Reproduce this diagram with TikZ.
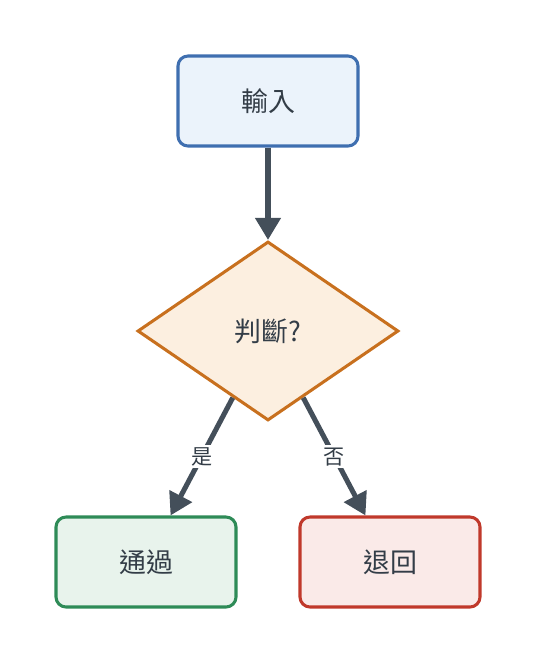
\documentclass[tikz,border=0pt]{standalone}
\usepackage{fontspec}
\setmainfont{Noto Sans CJK TC}
\usetikzlibrary{shapes.geometric,arrows.meta}

\definecolor{inkgray}{HTML}{333D47}
\definecolor{arrowgray}{HTML}{444F5A}
\definecolor{bluefill}{HTML}{EBF3FB}
\definecolor{blueline}{HTML}{3F6FB0}
\definecolor{orangefill}{HTML}{FCEFE0}
\definecolor{orangeline}{HTML}{C8701E}
\definecolor{greenfill}{HTML}{E8F3EC}
\definecolor{greenline}{HTML}{2E8B57}
\definecolor{redfill}{HTML}{FAEAE8}
\definecolor{redline}{HTML}{C0392B}

\begin{document}
\begin{tikzpicture}[x=0.03cm, y=-0.03cm,
    box/.style={rectangle, rounded corners=0.3cm, line width=2.6pt,
        minimum width=5.4cm, minimum height=2.7cm, text=inkgray,
        font=\fontsize{23}{27}\selectfont},
    decision/.style={diamond, aspect=1.46, line width=2.6pt, inner sep=0pt,
        minimum width=7.83cm, minimum height=5.37cm, text=inkgray,
        font=\fontsize{23}{27}\selectfont},
    flow/.style={arrowgray, line width=4.3pt,
        -{Triangle[length=0.66cm, width=0.74cm]}},
    answer/.style={fill=white, text=inkgray, inner sep=2pt,
        font=\fontsize{18}{21}\selectfont}]
        % Canvas
        \useasboundingbox (0,0) rectangle (536,664);

        % Steps
        \node[box, draw=blueline, fill=bluefill] (input) at (268,101) {輸入};
        \node[decision, draw=orangeline, fill=orangefill] (check) at (268,331) {判斷?};
        \node[box, draw=greenline, fill=greenfill] (pass) at (146,562) {通過};
        \node[box, draw=redline, fill=redfill] (reject) at (390,562) {退回};

        % Connectors
        \draw[flow] (input) -- (check);
        \draw[flow] (check) -- node[answer] {是} (pass);
        \draw[flow] (check) -- node[answer] {否} (reject);
    \end{tikzpicture}
\end{document}
